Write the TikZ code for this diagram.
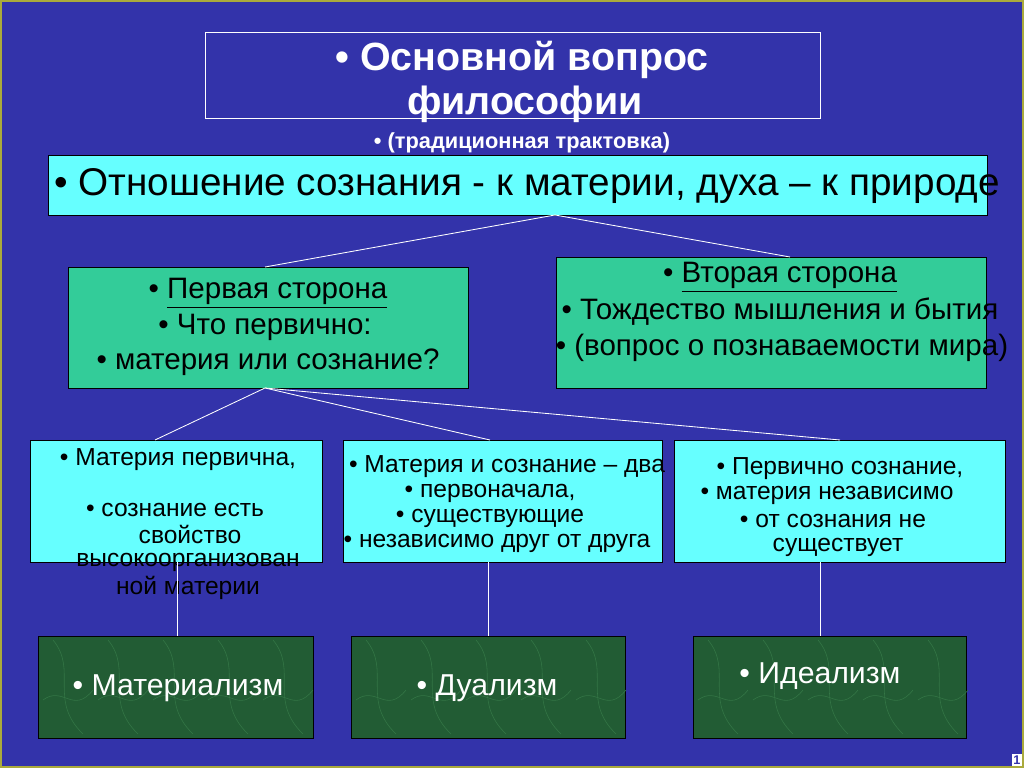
\documentclass[tikz,border=0pt]{standalone}
\usepackage{fontspec}
\setmainfont{Liberation Sans}
\usetikzlibrary{positioning}
\definecolor{bgblue}{RGB}{51,51,170}
\definecolor{boxcyan}{RGB}{102,255,255}
\definecolor{boxteal}{RGB}{51,204,153}
\definecolor{marble}{RGB}{34,92,52}
\definecolor{veins}{RGB}{52,118,70}
\definecolor{frame}{RGB}{170,170,60}
\tikzset{
    cbox/.style={draw=black, fill=boxcyan, anchor=north west, inner sep=0pt},
    tbox/.style={draw=black, fill=boxteal, anchor=north west, inner sep=0pt},
    mbox/.style={draw=black, fill=marble, anchor=north west, inner sep=0pt},
    conn/.style={white, line width=0.6pt},
    txt/.style={inner sep=0pt, font=\fontsize{21}{23}\selectfont},
    stxt/.style={inner sep=0pt, font=\fontsize{17.5}{19}\selectfont},
}
\begin{document}
\begin{tikzpicture}[x=0.025cm, y=-0.025cm]
    \fill[bgblue] (0,0) rectangle (1024,768);
    \draw[frame, line width=1pt] (1,1) rectangle (1023,767);
    % title
    \node[draw=white, line width=0.8pt, anchor=north west, minimum width=615*0.025cm, minimum height=86*0.025cm] (title) at (205,32) {};
    \node[white, font=\bfseries\fontsize{28}{30}\selectfont, inner sep=0pt] (t1) at (522,60) {• Основной вопрос};
    \node[white, font=\bfseries\fontsize{28}{30}\selectfont, inner sep=0pt] (t2) at (525,104) {философии};
    \node[white, font=\bfseries\fontsize{15.5}{17}\selectfont, inner sep=0pt] (t3) at (522,143) {• (традиционная трактовка)};
    % main relation
    \node[cbox, minimum width=939*0.025cm, minimum height=60*0.025cm] (rel) at (48,155) {};
    \node[inner sep=0pt, font=\fontsize{27.5}{29}\selectfont] (reltxt) at (527,186) {• Отношение сознания - к материи, духа – к природе};
    \coordinate (relfoot) at (555,215);
    % two sides
    \node[tbox, minimum width=400*0.025cm, minimum height=121*0.025cm] (first) at (68,267) {};
    \node[txt] at (268,293) {• \underline{Первая сторона}};
    \node[txt] at (265,327) {• Что первично:};
    \node[txt] at (268,362) {• материя или сознание?};
    \node[tbox, minimum width=430*0.025cm, minimum height=131*0.025cm] (second) at (556,257) {};
    \node[txt] at (780,277) {• \underline{Вторая сторона}};
    \node[txt] at (780,312) {• Тождество мышления и бытия};
    \node[txt] at (782,348) {• (вопрос о познаваемости мира)};
    \coordinate (firsttop) at (265,267);
    \coordinate (firstfoot) at (265,388);
    \coordinate (secondtop) at (790,257);
    \draw[conn] (relfoot) -- (firsttop);
    \draw[conn] (relfoot) -- (secondtop);
    % three answers
    \node[cbox, minimum width=292*0.025cm, minimum height=122*0.025cm] (mat) at (30,440) {};
    \node[cbox, minimum width=319*0.025cm, minimum height=122*0.025cm] (dua) at (343,440) {};
    \node[cbox, minimum width=331*0.025cm, minimum height=122*0.025cm] (ide) at (674,440) {};
    \draw[conn] (firstfoot) -- (155,440);
    \draw[conn] (firstfoot) -- (490,440);
    \draw[conn] (firstfoot) -- (840,440);
    \node[stxt] at (178,460) {• Материя первична,};
    \node[stxt] at (175,510) {• сознание есть};
    \node[stxt] at (190,534) {свойство};
    \node[stxt] at (188,562) {высокоорганизован};
    \node[stxt] at (188,588) {ной материи};
    \node[stxt] at (507,467) {• Материя и сознание – два};
    \node[stxt] at (490,493) {• первоначала,};
    \node[stxt] at (490,518) {• существующие};
    \node[stxt] at (497,543) {• независимо друг от друга};
    \node[stxt] at (840,469) {• Первично сознание,};
    \node[stxt] at (827,495) {• материя независимо};
    \node[stxt] at (833,521) {• от сознания не};
    \node[stxt] at (838,547) {существует};
    % schools
    \node[mbox, minimum width=275*0.025cm, minimum height=102*0.025cm] (matism) at (38,636) {};
    \node[mbox, minimum width=274*0.025cm, minimum height=102*0.025cm] (duism) at (351,636) {};
    \node[mbox, minimum width=273*0.025cm, minimum height=102*0.025cm] (idism) at (693,636) {};
    \foreach \bx in {38,351,693} {
        \foreach \k in {0,...,4} {
            \draw[veins, line width=0.4pt] (\bx+15+55*\k,640) .. controls (\bx+40+55*\k,670) and (\bx+10+55*\k,700) .. (\bx+45+55*\k,734);
            \draw[veins, line width=0.4pt] (\bx+5+55*\k,700) .. controls (\bx+25+55*\k,685) and (\bx+35+55*\k,715) .. (\bx+55+55*\k,690);
        }
    }
    \draw[conn] (177,562) -- (177,636);
    \draw[conn] (488,562) -- (488,636);
    \draw[conn] (820,562) -- (820,636);
    \node[white, inner sep=0pt, font=\fontsize{21.5}{23}\selectfont] at (178,688) {• Материализм};
    \node[white, inner sep=0pt, font=\fontsize{21.5}{23}\selectfont] at (487,688) {• Дуализм};
    \node[white, inner sep=0pt, font=\fontsize{21.5}{23}\selectfont] at (820,676) {• Идеализм};
    % page number
    \node[fill=white, inner sep=1pt, anchor=south east, font=\bfseries\fontsize{9}{10}\selectfont, text=bgblue] (pg) at (1022,766) {1};
\end{tikzpicture}
\end{document}
